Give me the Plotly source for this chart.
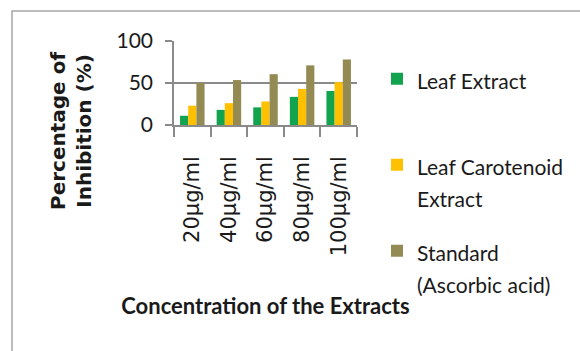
import plotly.graph_objects as go

# Concentrations tested
concentrations = ["20µg/ml", "40µg/ml", "60µg/ml", "80µg/ml", "100µg/ml"]

# Percentage of inhibition for each sample
leaf_extract = [11, 18, 21, 33.5, 40.5]
leaf_carotenoid = [23, 26, 28, 43, 51]
standard_ascorbic = [50, 53.5, 60.5, 71, 78]

series_names = ["Leaf Extract<br> ", "Leaf Carotenoid<br>Extract", "Standard<br>(Ascorbic acid)"]
series_colors = ["#12A34F", "#FFC000", "#948A54"]
series_values = [leaf_extract, leaf_carotenoid, standard_ascorbic]

FONT = "Lato"
W, H = 580, 351
ML, MR, MT, MB = 174, 223, 41, 226
pw, ph = W - ML - MR, H - MT - MB


def px_x(x):
    return (x - ML) / pw


def px_y(y):
    return (H - MB - y) / ph


fig = go.Figure()
for i, (name, color, vals) in enumerate(zip(series_names, series_colors, series_values)):
    fig.add_trace(go.Bar(
        x=concentrations, y=vals,
        name=f'<span style="font-size:21px">{name}</span>',
        marker=dict(color=color, line=dict(width=0)),
        legendgroup=f"g{i}",
    ))

axis_grey = "#8a8a8a"

fig.update_layout(
    width=W, height=H,
    margin=dict(l=ML, r=MR, t=MT, b=MB, autoexpand=False),
    paper_bgcolor="white", plot_bgcolor="white",
    font=dict(family=FONT, size=20, color="#1a1a1a"),
    barmode="group", bargap=0.33, bargroupgap=0,
    showlegend=True,
    legend=dict(
        x=px_x(377), y=px_y(56), xanchor="left", yanchor="top",
        font=dict(family=FONT, size=25, color="#1a1a1a"),
        valign="top", tracegroupgap=18, itemsizing="constant",
        bgcolor="rgba(0,0,0,0)", maxheight=400,
    ),
    xaxis=dict(
        type="category",
        showline=True, linecolor=axis_grey, linewidth=1.5,
        ticks="outside", tickson="boundaries", ticklen=10, tickcolor=axis_grey, tickwidth=1.5,
        tickangle=-90, tickfont=dict(family="DejaVu Sans", size=21),
        ticklabelstandoff=21,
        showgrid=False,
        title=dict(text="Concentration of the Extracts", standoff=43,
                   font=dict(family=FONT, size=22, weight="bold")),
    ),
    yaxis=dict(
        range=[0, 100], dtick=50, tick0=0,
        showline=True, linecolor=axis_grey, linewidth=1.5,
        ticks="outside", ticklen=7, tickcolor=axis_grey, tickwidth=1.5,
        showgrid=True, gridcolor=axis_grey, gridwidth=1.5,
        zeroline=False,
        tickfont=dict(family=FONT, size=21),
        ticklabelstandoff=8,
    ),
    annotations=[dict(
        text="Percentage of<br>Inhibition (%)",
        xref="paper", yref="paper", x=px_x(71), y=px_y(131),
        xanchor="center", yanchor="middle", textangle=-90, showarrow=False,
        font=dict(family="DejaVu Sans", size=20, weight="bold", color="#1a1a1a"),
    )],
    shapes=[dict(
        type="rect", xref="paper", yref="paper",
        x0=px_x(12), x1=px_x(600), y0=px_y(370), y1=px_y(11),
        line=dict(color="#a6a6a6", width=1.5), layer="below",
    )],
)

fig.write_html("out.html")
